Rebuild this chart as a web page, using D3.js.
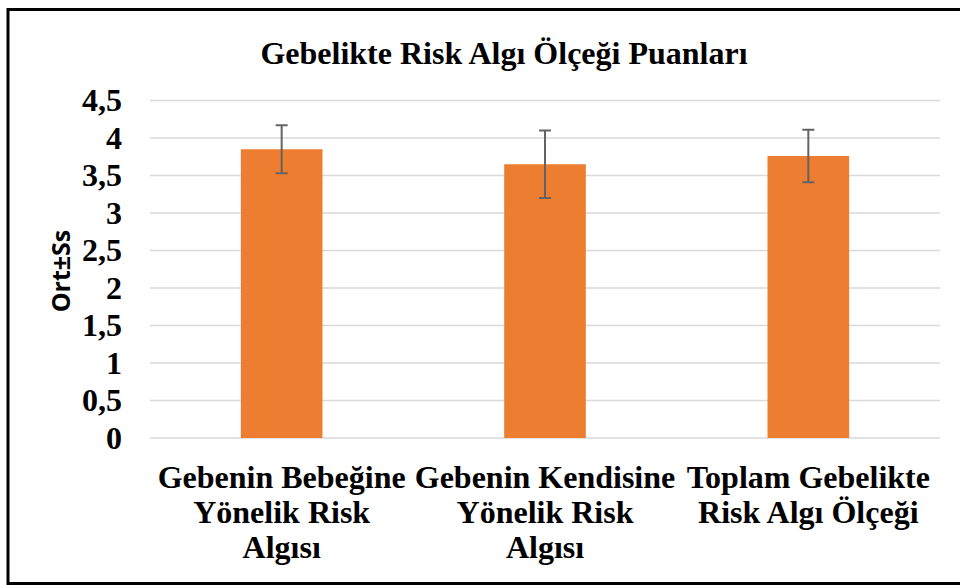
<!DOCTYPE html>
<html>
<head>
<meta charset="utf-8">
<script src="https://cdn.jsdelivr.net/npm/d3@7"></script>
<style>
  html, body { margin: 0; padding: 0; background: #fff; }
  svg { display: block; }
</style>
</head>
<body>
<svg id="chart" width="960" height="585"></svg>
<script>
const title = "Gebelikte Risk Algı Ölçeği Puanları";
const yAxisTitle = "Ort±Ss";
const categories = [
  ["Gebenin Bebeğine", "Yönelik Risk", "Algısı"],
  ["Gebenin Kendisine", "Yönelik Risk", "Algısı"],
  ["Toplam Gebelikte", "Risk Algı Ölçeği"]
];
const means = [3.85, 3.65, 3.76];
const sds = [0.32, 0.45, 0.35];
const yTicks = [0, 0.5, 1, 1.5, 2, 2.5, 3, 3.5, 4, 4.5];

const svg = d3.select("#chart");
const serif = "'Liberation Serif', 'Times New Roman', serif";

// frame
svg.append("path")
  .attr("d", "M 1000 9.5 H 8 V 583.5 H 1000")
  .attr("fill", "none").attr("stroke", "#000").attr("stroke-width", 3);

const x = d3.scaleBand()
  .domain(d3.range(categories.length))
  .range([150, 940])
  .paddingInner(0.69).paddingOuter(0.345);
const y = d3.scaleLinear().domain([0, 4.5]).range([438, 100.5]);

// gridlines
svg.append("g").selectAll("line").data(yTicks).join("line")
  .attr("x1", 150).attr("x2", 940)
  .attr("y1", d => y(d)).attr("y2", d => y(d))
  .attr("stroke", "#d9d9d9").attr("stroke-width", 1.5);

// y tick labels
svg.append("g").selectAll("text").data(yTicks).join("text")
  .attr("x", 122).attr("y", d => y(d)).attr("dy", "0.34em")
  .attr("text-anchor", "end")
  .attr("font-family", serif).attr("font-weight", "bold").attr("font-size", 32)
  .attr("fill", "#000")
  .text(d => String(d).replace(".", ","));

// bars
svg.append("g").selectAll("rect").data(means).join("rect")
  .attr("x", (d, i) => x(i)).attr("width", x.bandwidth())
  .attr("y", d => y(d)).attr("height", d => y(0) - y(d))
  .attr("fill", "#ED7D31");

// error bars
const eb = svg.append("g").attr("stroke", "#636363").attr("stroke-width", 2).attr("fill", "none");
means.forEach((m, i) => {
  const cx = x(i) + x.bandwidth() / 2;
  const top = y(m + sds[i]), bot = y(m - sds[i]);
  eb.append("line").attr("x1", cx).attr("x2", cx).attr("y1", top).attr("y2", bot);
  eb.append("line").attr("x1", cx - 6).attr("x2", cx + 6).attr("y1", top).attr("y2", top);
  eb.append("line").attr("x1", cx - 6).attr("x2", cx + 6).attr("y1", bot).attr("y2", bot);
});

// category labels
const cat = svg.append("g");
categories.forEach((lines, i) => {
  const cx = x(i) + x.bandwidth() / 2;
  const t = cat.append("text")
    .attr("text-anchor", "middle")
    .attr("font-family", serif).attr("font-weight", "bold").attr("font-size", 32)
    .attr("fill", "#000");
  lines.forEach((ln, j) => {
    t.append("tspan").attr("x", cx).attr("y", 488 + j * 35).text(ln);
  });
});

// title
svg.append("text")
  .attr("x", 504).attr("y", 64)
  .attr("text-anchor", "middle")
  .attr("font-family", serif).attr("font-weight", "bold").attr("font-size", 32)
  .attr("fill", "#000")
  .text(title);

// y axis title
svg.append("text")
  .attr("transform", "translate(70,271) rotate(-90)")
  .attr("text-anchor", "middle")
  .attr("font-family", "'Open Sans', sans-serif").attr("font-weight", "bold").attr("font-size", 25)
  .attr("fill", "#000")
  .text(yAxisTitle);
</script>
</body>
</html>
